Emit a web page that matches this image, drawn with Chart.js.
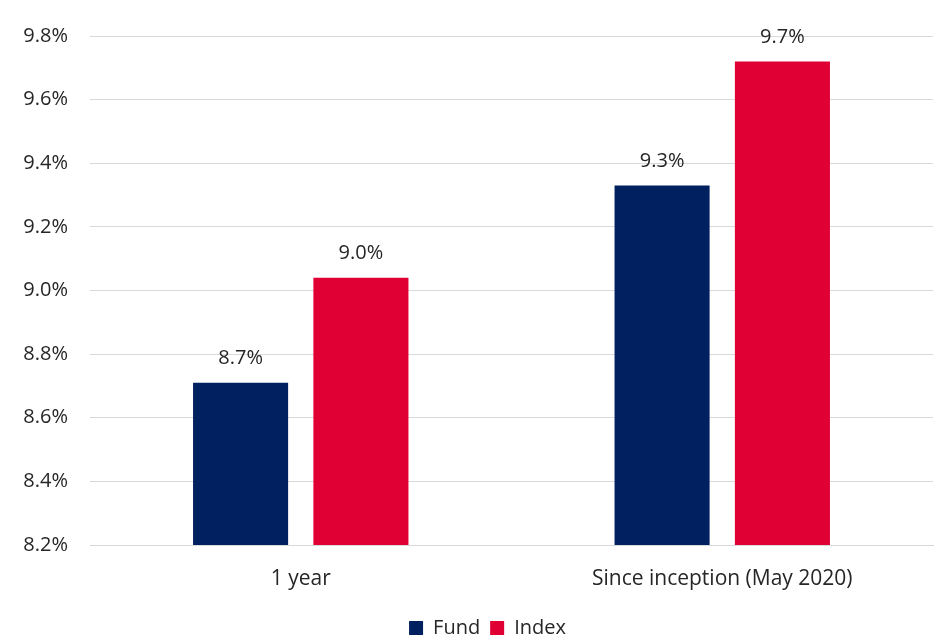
<!DOCTYPE html>
<html>
<head>
<meta charset="utf-8">
<script src="https://cdn.jsdelivr.net/npm/chart.js@4/dist/chart.umd.min.js"></script>
<style>
  html, body { margin: 0; padding: 0; background: #fff; }
  #wrap { width: 946px; height: 636px; }
</style>
</head>
<body>
<div id="wrap"><canvas id="chart" width="946" height="636"></canvas></div>
<script>
const categories = ['1 year', 'Since inception (May 2020)'];
const fundValues = [8.71, 9.33];
const indexValues = [9.04, 9.72];
const seriesNames = ['Fund', 'Index'];
const yTicks = [8.2, 8.4, 8.6, 8.8, 9.0, 9.2, 9.4, 9.6, 9.8];

const FONT = '"Open Sans", "DejaVu Sans", sans-serif';

// draws the value labels above each bar
const barLabels = {
  id: 'barLabels',
  afterDatasetsDraw(chart) {
    const ctx = chart.ctx;
    ctx.save();
    ctx.font = '20px ' + FONT;
    ctx.fillStyle = '#262626';
    ctx.textAlign = 'center';
    ctx.textBaseline = 'middle';
    chart.data.datasets.forEach((ds, i) => {
      chart.getDatasetMeta(i).data.forEach((bar, j) => {
        ctx.fillText(ds.data[j].toFixed(1) + '%', bar.x, bar.y - 24);
      });
    });
    ctx.restore();
  }
};

// legend sits a little right of the canvas centre in the original
const legendShift = {
  id: 'legendShift',
  afterLayout(chart) {
    chart.legend.left += 21;
    chart.legend.right += 21;
  }
};

new Chart(document.getElementById('chart'), {
  type: 'bar',
  data: {
    labels: categories,
    datasets: [
      {
        label: seriesNames[0],
        data: fundValues,
        backgroundColor: '#002060',
        barPercentage: 0.79,
        categoryPercentage: 0.571
      },
      {
        label: seriesNames[1],
        data: indexValues,
        backgroundColor: '#E00034',
        barPercentage: 0.79,
        categoryPercentage: 0.571
      }
    ]
  },
  options: {
    responsive: false,
    animation: false,
    layout: { padding: { top: 36, right: 13, left: 0, bottom: -12 } },
    scales: {
      x: {
        grid: { display: false },
        border: { color: '#d9d9d9', width: 1 },
        ticks: { color: '#262626', font: { family: FONT, size: 21 }, padding: 13 },
        afterFit: s => { s.height = 63; }
      },
      y: {
        min: 8.2,
        max: 9.8,
        afterBuildTicks: s => { s.ticks = yTicks.map(v => ({ value: v })); },
        grid: { color: '#d9d9d9', lineWidth: 1, drawTicks: false },
        border: { display: false },
        ticks: {
          color: '#262626',
          font: { family: FONT, size: 20 },
          padding: 22,
          callback: v => v.toFixed(1) + '%'
        },
        afterFit: s => { s.width = 90; }
      }
    },
    plugins: {
      legend: {
        position: 'bottom',
        labels: {
          color: '#262626',
          font: { family: FONT, size: 20 },
          boxWidth: 14,
          boxHeight: 14,
          padding: 10,
          useBorderRadius: false
        }
      },
      tooltip: { enabled: false }
    }
  },
  plugins: [barLabels, legendShift]
});
</script>
</body>
</html>
